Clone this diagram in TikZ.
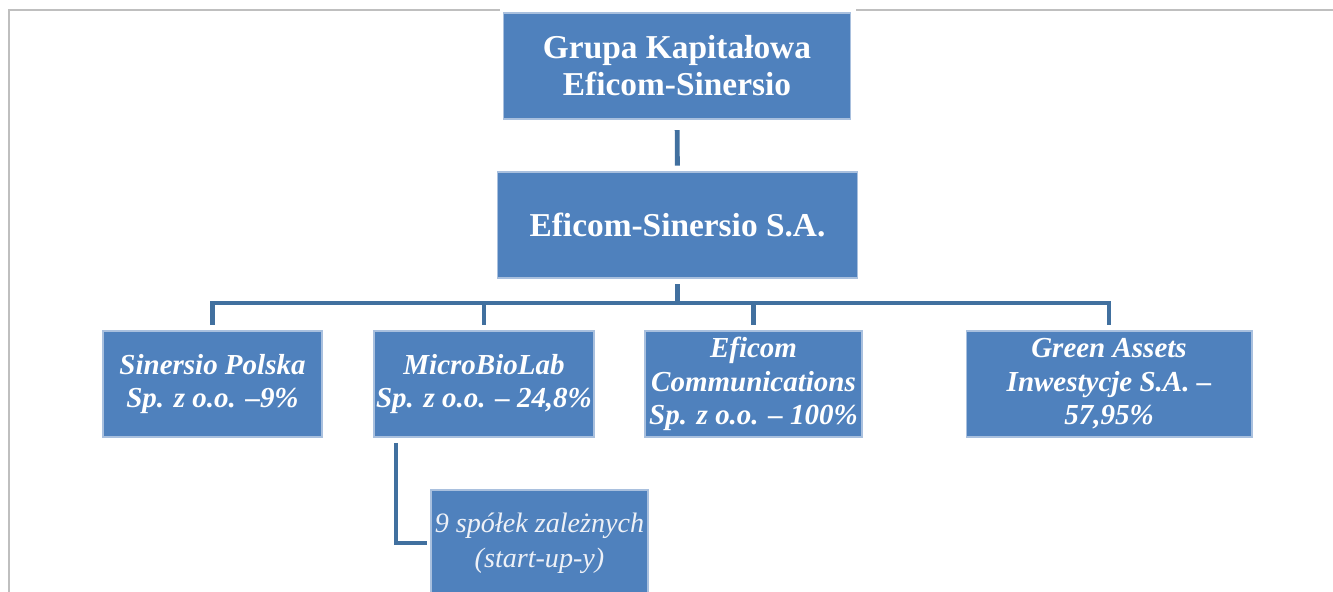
\documentclass[tikz,border=0pt]{standalone}
\usepackage{fontspec}
\setmainfont{Liberation Serif}
\usepackage{tikz}
\usetikzlibrary{positioning,calc}
\definecolor{boxblue}{HTML}{4F81BD}
\definecolor{boxedge}{HTML}{A9C0DE}
\definecolor{linkblue}{HTML}{41709F}
\definecolor{framegray}{HTML}{BFBFBF}
\definecolor{paletext}{HTML}{EEF1F7}
\tikzset{
  orgbox/.style={fill=boxblue, draw=boxedge, line width=0.6pt, text=white, align=center,
    inner sep=0pt, font=\fontsize{19}{21}\selectfont\bfseries},
  subbox/.style={orgbox, minimum width=4.36cm, minimum height=2.12cm,
    font=\fontsize{16.5}{19}\selectfont\bfseries\itshape},
  link/.style={draw=linkblue, line width=2.8pt},
}

\begin{document}
\begin{tikzpicture}[x=0.02cm,y=-0.02cm]
\useasboundingbox (0,0) rectangle (1333,592);
% frame
\draw[framegray, line width=0.8pt] (9,592) -- (9,10) -- (500,10);
\draw[framegray, line width=0.8pt] (856,10) -- (1333,10);

\node[orgbox, minimum width=6.96cm, minimum height=2.12cm] (grupa) at (677,66) {Grupa Kapitałowa\\Eficom-Sinersio};
\node[orgbox, minimum width=7.22cm, minimum height=2.12cm] (sa) at (677.5,225) {Eficom-Sinersio S.A.};

\node[subbox, minimum width=4.38cm] (polska) at (212.5,384) {Sinersio Polska\\Sp. z o.o. –9\%};
\node[subbox, minimum width=4.4cm] (mbl) at (484,384) {MicroBioLab\\Sp. z o.o. – 24,8\%};
\node[subbox, minimum width=4.34cm] (comm) at (753.5,384) {Eficom\\Communications\\Sp. z o.o. – 100\%};
\node[subbox, minimum width=5.72cm] (green) at (1109,384) {Green Assets\\Inwestycje S.A. –\\57,95\%};

\node[orgbox, minimum width=4.34cm, minimum height=2.12cm, text=paletext,
  font=\fontsize{16}{20}\selectfont\itshape] (startup) at (539.5,543) {9 spółek zależnych\\(start-up-y)};

% connectors
\coordinate (bus) at (677.5,303);
\draw[link, shorten <=6pt, shorten >=3.4pt] (grupa) -- (sa);
\draw[link, shorten <=3.4pt] (sa) -- (bus);
\foreach \n in {polska,mbl,comm,green}
  \draw[link, shorten >=3.4pt] (bus) -| (\n.north);
\coordinate (mblfoot) at (396,437);
\draw[link, shorten <=3.4pt, shorten >=2pt] (mblfoot) |- (startup.west);
\end{tikzpicture}
\end{document}
